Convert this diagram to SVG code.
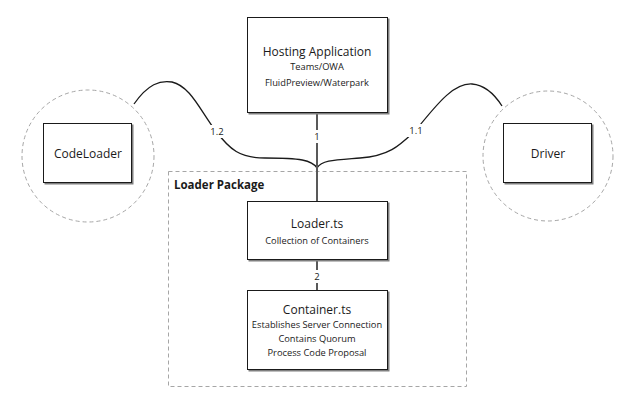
<svg xmlns="http://www.w3.org/2000/svg" width="636" height="412" viewBox="0 0 636 412">
<style>
.bg{fill:#fff}
.box{fill:#fff;stroke:#1a1a1a;stroke-width:1}
.sh{fill:#7f7f7f}
.dash{fill:none;stroke:#a6a6a6;stroke-width:1;stroke-dasharray:4 3}
.conn{fill:none;stroke:#1a1a1a;stroke-width:1.3}
.trunk{fill:none;stroke:#595959;stroke-width:2}
text{font-family:"Open Sans","Noto Sans","Liberation Sans",sans-serif;fill:#1a1a1a;text-anchor:middle;dominant-baseline:central}
.t1{font-size:12px}
.t2{font-size:9.3px}
.lbl{font-size:9.5px}
.pkg{font-size:11.5px;font-weight:bold;text-anchor:start}
</style>
<rect class="bg" x="0" y="0" width="636" height="412"/>
<g id="loader-package">
<rect class="dash" x="168.5" y="171.5" width="298" height="215"/>
<text class="pkg" x="174" y="184">Loader Package</text>
</g>
<g id="codeloader-zone"><circle class="dash" cx="88" cy="156" r="66"/></g>
<g id="driver-zone"><circle class="dash" cx="548" cy="156" r="65"/></g>
<g id="connectors">
<path class="conn" d="M134,104 C148,84 160,80 172,82 C190,86 200,110 215,130 C230,150 240,158 265,158 C300,158 312,160 317,168"/>
<path class="conn" d="M317,168 C322,160 335,160 360,158 C390,156 400,145 416,130 C440,100 455,83 472,84 C485,85 495,95 502,106"/>
<path class="trunk" d="M317,113 V201 M317,260 V290"/>
<rect class="bg" x="310" y="130" width="14" height="13"/>
<text class="lbl" x="317" y="136">1</text>
<rect class="bg" x="208" y="125" width="18" height="13"/>
<text class="lbl" x="217" y="131">1.2</text>
<rect class="bg" x="407" y="124" width="18" height="13"/>
<text class="lbl" x="416" y="130">1.1</text>
<rect class="bg" x="310" y="270" width="14" height="13"/>
<text class="lbl" x="317" y="276">2</text>
</g>
<g id="hosting-application">
<rect class="sh" x="248.5" y="18.5" width="141" height="96"/>
<rect class="box" x="247.5" y="17.5" width="140" height="95"/>
<text class="t1" x="317" y="51.5">Hosting Application</text>
<text class="t2" x="317" y="66">Teams/OWA</text>
<text class="t2" x="317" y="82">FluidPreview/Waterpark</text>
</g>
<g id="codeloader">
<rect class="sh" x="44.5" y="124.5" width="89" height="60"/>
<rect class="box" x="43.5" y="123.5" width="88" height="59"/>
<text class="t1" x="88" y="153">CodeLoader</text>
</g>
<g id="driver">
<rect class="sh" x="504.5" y="124.5" width="89" height="60"/>
<rect class="box" x="503.5" y="123.5" width="88" height="59"/>
<text class="t1" x="548" y="153">Driver</text>
</g>
<g id="loader-ts">
<rect class="sh" x="248.5" y="202.5" width="141" height="59"/>
<rect class="box" x="247.5" y="201.5" width="140" height="58"/>
<text class="t1" x="317" y="223">Loader.ts</text>
<text class="t2" x="317" y="240">Collection of Containers</text>
</g>
<g id="container-ts">
<rect class="sh" x="248.5" y="291.5" width="141" height="80"/>
<rect class="box" x="247.5" y="290.5" width="140" height="79"/>
<text class="t1" x="317" y="309.5">Container.ts</text>
<text class="t2" x="317" y="324">Establishes Server Connection</text>
<text class="t2" x="317" y="338">Contains Quorum</text>
<text class="t2" x="317" y="352">Process Code Proposal</text>
</g>
</svg>
